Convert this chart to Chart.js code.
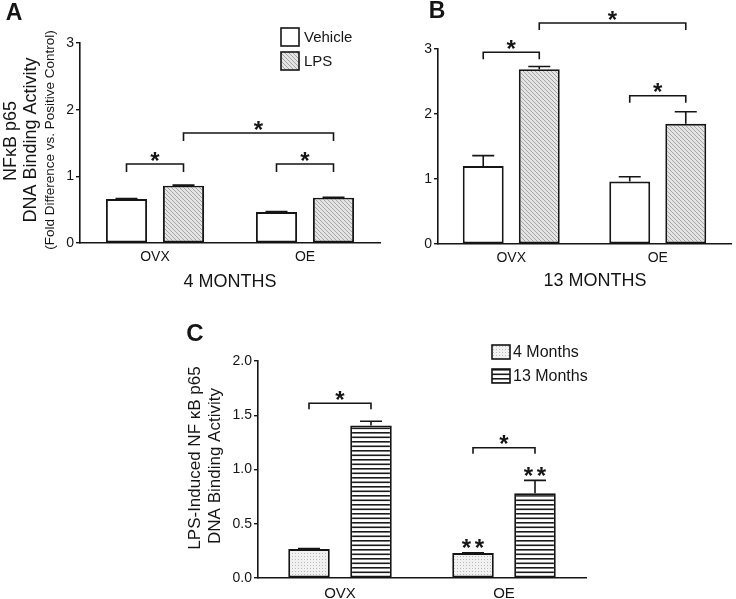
<!DOCTYPE html>
<html>
<head>
<meta charset="utf-8">
<script src="https://cdn.jsdelivr.net/npm/chart.js@4.4.0/dist/chart.umd.min.js"></script>
<style>
  html, body { margin: 0; padding: 0; background: #fff; }
  #wrap { position: relative; width: 736px; height: 599px; overflow: hidden; }
  #wrap canvas { position: absolute; left: 0; top: 0; }
</style>
</head>
<body>
<div id="wrap">
  <canvas id="chartA" width="736" height="599"></canvas>
  <canvas id="chartB" width="736" height="599"></canvas>
  <canvas id="chartC" width="736" height="599"></canvas>
</div>
<script>
const categories = ['OVX', 'OE'];

// A - 4 months, fold difference
const vehicle4m = [0.66, 0.465];
const vehicle4mErr = [0.008, 0.006];
const lps4m = [0.86, 0.68];
const lps4mErr = [0.008, 0.004];

// B - 13 months
const vehicle13m = [1.20, 0.96];
const vehicle13mErr = [0.16, 0.075];
const lps13m = [2.69, 1.85];
const lps13mErr = [0.04, 0.185];

// C - LPS-induced activity
const induced4m = [0.267, 0.23];
const induced4mErr = [0.005, 0.003];
const induced13m = [1.405, 0.78];
const induced13mErr = [0.04, 0.12];

const ticksAB = [0, 1, 2, 3];
const ticksC = [0, 0.5, 1.0, 1.5, 2.0];

// significance brackets, ends are [dataset, category]
const sigA = [
    { from: [0, 0], to: [1, 0], at: 1.185, label: '*' },
    { from: [0, 1], to: [1, 1], at: 1.185, label: '*' },
    { from: [1, 0], to: [1, 1], at: 1.65, label: '*' }
];
const sigB = [
    { from: [0, 0], to: [1, 0], at: 2.95, label: '*' },
    { from: [0, 1], to: [1, 1], at: 2.28, label: '*' },
    { from: [1, 0], to: [1, 1], at: 3.40, label: '*' }
];
const sigC = [
    { from: [0, 0], to: [1, 0], at: 1.61, label: '*' },
    { from: [0, 1], to: [1, 1], at: 1.20, label: '*' }
];
const marksC = [
    { bar: [0, 1], label: '**' },
    { bar: [1, 1], label: '**' }
];

const FONT = '"Liberation Sans", Arial, Helvetica, sans-serif';
const INK = '#151515';

function makePattern(kind) {
    const c = document.createElement('canvas');
    const g = c.getContext('2d');
    if (kind === 'hatch') {
        c.width = 4; c.height = 4;
        g.fillStyle = '#e4e4e4'; g.fillRect(0, 0, 4, 4);
        g.strokeStyle = '#9e9e9e'; g.lineWidth = 0.9;
        g.beginPath();
        g.moveTo(-1, -1); g.lineTo(5, 5);
        g.moveTo(-1, 3); g.lineTo(1, 5);
        g.moveTo(3, -1); g.lineTo(5, 1);
        g.stroke();
    } else if (kind === 'dots') {
        c.width = 3; c.height = 3;
        g.fillStyle = '#f1f1f1'; g.fillRect(0, 0, 3, 3);
        g.fillStyle = '#bcbcbc'; g.fillRect(1, 1, 1, 1);
    } else {
        c.width = 2; c.height = 9;
        g.fillStyle = '#ffffff'; g.fillRect(0, 0, 2, 9);
        g.fillStyle = '#1a1a1a'; g.fillRect(0, 0, 2, 1.6); g.fillRect(0, 4.5, 2, 1.6);
    }
    return g.createPattern(c, 'repeat');
}

const fills = {
    white: '#ffffff',
    hatch: makePattern('hatch'),
    dots: makePattern('dots'),
    stripes: makePattern('stripes')
};

function drawStars(ctx, x, cy, label) {
    ctx.font = 'bold 24px ' + FONT;
    ctx.textAlign = 'center';
    ctx.textBaseline = 'alphabetic';
    const m = ctx.measureText('*');
    const base = cy + (m.actualBoundingBoxAscent - m.actualBoundingBoxDescent) / 2;
    const n = label.length, step = 13;
    for (let k = 0; k < n; k++) {
        ctx.fillText('*', x - (n - 1) * step / 2 + k * step, base);
    }
}

function decor(p) {
    return {
        id: 'decor' + p.letter,
        afterDatasetsDraw(chart) {
            const ctx = chart.ctx;
            const ys = chart.scales.y;
            const barAt = ([d, c]) => chart.getDatasetMeta(d).data[c];
            ctx.save();
            ctx.strokeStyle = INK;
            ctx.fillStyle = INK;
            ctx.lineWidth = 1.6;

            // error bars (upper half only)
            chart.data.datasets.forEach((ds, i) => {
                chart.getDatasetMeta(i).data.forEach((bar, j) => {
                    const top = ys.getPixelForValue(ds.data[j] + ds.errors[j]);
                    ctx.beginPath();
                    ctx.moveTo(bar.x, bar.y);
                    ctx.lineTo(bar.x, top);
                    ctx.moveTo(bar.x - 11, top);
                    ctx.lineTo(bar.x + 11, top);
                    ctx.stroke();
                });
            });

            // significance brackets
            p.sig.forEach(s => {
                const x1 = barAt(s.from).x, x2 = barAt(s.to).x;
                const yy = ys.getPixelForValue(s.at);
                ctx.beginPath();
                ctx.moveTo(x1, yy + p.bracketTick);
                ctx.lineTo(x1, yy);
                ctx.lineTo(x2, yy);
                ctx.lineTo(x2, yy + p.bracketTick);
                ctx.stroke();
                drawStars(ctx, (x1 + x2) / 2, yy - 8, s.label);
            });

            (p.marks || []).forEach(mk => {
                const [d, c] = mk.bar;
                const ds = chart.data.datasets[d];
                const el = barAt(mk.bar);
                const top = ys.getPixelForValue(ds.data[c] + ds.errors[c]);
                drawStars(ctx, el.x, top - 9, mk.label);
            });
            ctx.restore();
        },
        afterDraw(chart) {
            const ctx = chart.ctx;
            ctx.save();
            ctx.fillStyle = INK;

            // panel letter
            ctx.font = 'bold ' + p.letterPos[2] + 'px ' + FONT;
            ctx.textAlign = 'center';
            ctx.textBaseline = 'middle';
            ctx.fillText(p.letter, p.letterPos[0], p.letterPos[1]);

            // group label under the axis
            if (p.group) {
                ctx.font = '18px ' + FONT;
                ctx.fillText(p.group[0], p.group[1], p.group[2]);
            }

            // rotated y titles
            (p.yTitle || []).forEach(t => {
                ctx.save();
                ctx.translate(t.x, t.y);
                ctx.rotate(-Math.PI / 2);
                ctx.font = t.size + 'px ' + FONT;
                ctx.textAlign = 'center';
                ctx.textBaseline = 'middle';
                ctx.fillText(t.text, 0, 0);
                ctx.restore();
            });

            // legend
            if (p.legend) {
                const L = p.legend;
                ctx.font = L.size + 'px ' + FONT;
                ctx.textAlign = 'left';
                ctx.textBaseline = 'middle';
                chart.data.datasets.forEach((ds, i) => {
                    const by = L.y + i * L.gap;
                    ctx.fillStyle = ds.backgroundColor;
                    ctx.fillRect(L.x, by, L.w, L.h);
                    ctx.strokeStyle = INK;
                    ctx.lineWidth = 1.6;
                    ctx.strokeRect(L.x, by, L.w, L.h);
                    ctx.fillStyle = INK;
                    ctx.fillText(ds.label, L.x + L.w + L.textGap, by + L.h / 2 + 1);
                });
            }
            ctx.restore();
        }
    };
}

function panel(id, p) {
    const pad = {
        left: p.area.left - p.yWidth,
        top: p.area.top,
        right: 736 - p.area.right,
        bottom: 599 - p.area.bottom - p.xHeight
    };
    return new Chart(document.getElementById(id), {
        type: 'bar',
        data: {
            labels: categories,
            datasets: p.datasets.map(d => ({
                label: d.label,
                data: d.data,
                errors: d.err,
                backgroundColor: d.fill,
                borderColor: INK,
                borderWidth: 1.9,
                borderSkipped: false,
                barPercentage: p.barPct,
                categoryPercentage: p.catPct
            }))
        },
        options: {
            responsive: false,
            animation: false,
            devicePixelRatio: 1,
            layout: { padding: pad },
            plugins: { legend: { display: false }, tooltip: { enabled: false } },
            scales: {
                x: {
                    grid: { display: false, drawTicks: false },
                    border: { display: true, color: INK, width: 1.6 },
                    ticks: { color: INK, font: { family: FONT, size: p.xFont }, padding: p.xPad },
                    afterFit: s => { s.height = p.xHeight; }
                },
                y: {
                    min: p.ticks[0],
                    max: p.ticks[p.ticks.length - 1],
                    afterBuildTicks: s => { s.ticks = p.ticks.map(v => ({ value: v })); },
                    afterFit: s => { s.width = p.yWidth; },
                    grid: { drawOnChartArea: false, drawTicks: true, tickLength: 4, color: INK, lineWidth: 1.4 },
                    border: { display: true, color: INK, width: 1.6 },
                    ticks: {
                        color: INK,
                        font: { family: FONT, size: p.yFont },
                        padding: 2,
                        callback: v => p.decimals ? Number(v).toFixed(1) : v
                    }
                }
            }
        },
        plugins: [decor(p)]
    });
}

panel('chartA', {
    letter: 'A', letterPos: [14, 14, 23],
    area: { left: 80, right: 380, top: 43, bottom: 243 },
    yWidth: 40, xHeight: 30, xFont: 14, xPad: 6, yFont: 14,
    ticks: ticksAB, decimals: false,
    barPct: 0.72, catPct: 0.76,
    datasets: [
        { label: 'Vehicle', data: vehicle4m, err: vehicle4mErr, fill: fills.white },
        { label: 'LPS', data: lps4m, err: lps4mErr, fill: fills.hatch }
    ],
    sig: sigA, bracketTick: 8,
    group: ['4 MONTHS', 230, 282],
    yTitle: [
        { text: 'NFκB p65', x: 11, y: 141, size: 18 },
        { text: 'DNA Binding Activity', x: 31, y: 140, size: 18 },
        { text: '(Fold Difference vs. Positive Control)', x: 50, y: 140, size: 13.5 }
    ],
    legend: { x: 281, y: 28, w: 18, h: 18, gap: 24, size: 15, textGap: 5 }
});

panel('chartB', {
    letter: 'B', letterPos: [437, 12, 23],
    area: { left: 438, right: 731, top: 49, bottom: 244 },
    yWidth: 40, xHeight: 30, xFont: 14, xPad: 6, yFont: 14,
    ticks: ticksAB, decimals: false,
    barPct: 0.73, catPct: 0.765,
    datasets: [
        { label: 'Vehicle', data: vehicle13m, err: vehicle13mErr, fill: fills.white },
        { label: 'LPS', data: lps13m, err: lps13mErr, fill: fills.hatch }
    ],
    sig: sigB, bracketTick: 7,
    group: ['13 MONTHS', 595, 281]
});

panel('chartC', {
    letter: 'C', letterPos: [195, 334, 24],
    area: { left: 258, right: 586, top: 361, bottom: 578 },
    yWidth: 40, xHeight: 21, xFont: 15, xPad: 7, yFont: 14,
    ticks: ticksC, decimals: true,
    barPct: 0.67, catPct: 0.756,
    datasets: [
        { label: '4 Months', data: induced4m, err: induced4mErr, fill: fills.dots },
        { label: '13 Months', data: induced13m, err: induced13mErr, fill: fills.stripes }
    ],
    sig: sigC, bracketTick: 6,
    marks: marksC,
    yTitle: [
        { text: 'LPS-Induced NF κB p65', x: 195, y: 458, size: 17 },
        { text: 'DNA Binding Activity', x: 215, y: 466, size: 17 }
    ],
    legend: { x: 492, y: 345, w: 18, h: 14, gap: 24, size: 16, textGap: 3 }
});
</script>
</body>
</html>
